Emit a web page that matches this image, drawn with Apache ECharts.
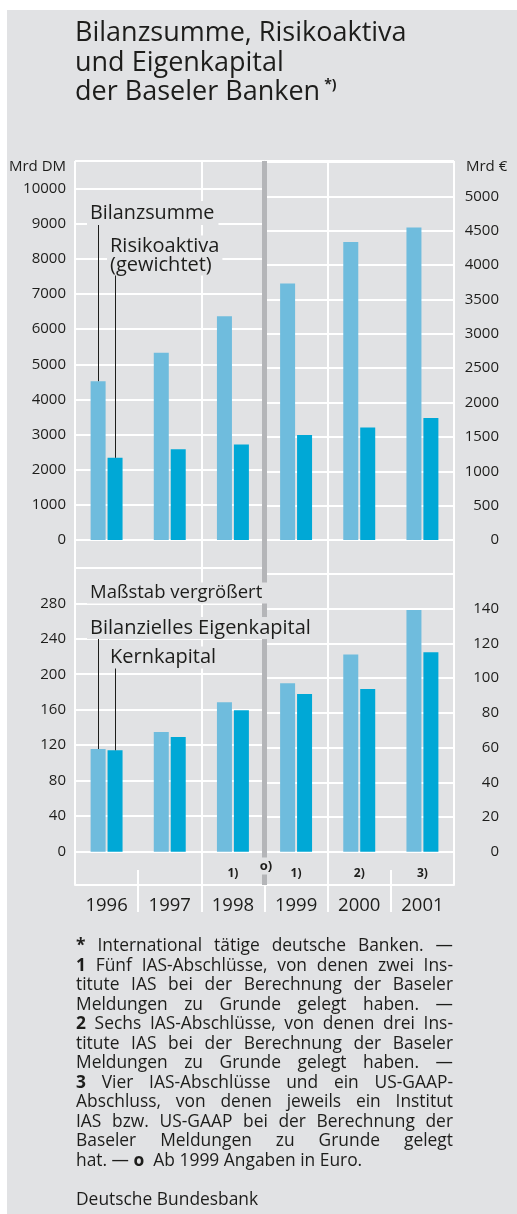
<!DOCTYPE html>
<html>
<head>
<meta charset="utf-8">
<script src="https://cdn.jsdelivr.net/npm/echarts@6/dist/echarts.min.js"></script>
<style>
  html, body { margin: 0; padding: 0; background: #fff; }
  #bg { position: absolute; left: 7px; top: 10px; width: 510px; height: 1204px; background: #e1e2e4; }
  #chart { position: absolute; left: 0; top: 0; width: 517px; height: 1214px; }
  #notes { position: absolute; left: 76px; top: 935px; width: 377px; font-family: 'Open Sans', sans-serif;
           font-size: 17.4px; line-height: 19.5px; color: #1d1d1b; }
  #notes div { white-space: nowrap; }
  #notes .j { text-align: justify; text-align-last: justify; }
</style>
</head>
<body>
<div id="bg"></div>
<div id="chart"></div>
<div id="notes">
  <div class="j"><b>*</b> International tätige deutsche Banken. —</div>
  <div class="j"><b>1</b> Fünf IAS-Abschlüsse, von denen zwei Ins-</div>
  <div class="j">titute IAS bei der Berechnung der Baseler</div>
  <div class="j">Meldungen zu Grunde gelegt haben. —</div>
  <div class="j"><b>2</b> Sechs IAS-Abschlüsse, von denen drei Ins-</div>
  <div class="j">titute IAS bei der Berechnung der Baseler</div>
  <div class="j">Meldungen zu Grunde gelegt haben. —</div>
  <div class="j"><b>3</b> Vier IAS-Abschlüsse und ein US-GAAP-</div>
  <div class="j">Abschluss, von denen jeweils ein Institut</div>
  <div class="j">IAS bzw. US-GAAP bei der Berechnung der</div>
  <div class="j">Baseler Meldungen zu Grunde gelegt</div>
  <div>hat. — <b>o</b>&nbsp; Ab 1999 Angaben in Euro.</div>
  <div>&nbsp;</div>
  <div>Deutsche Bundesbank</div>
</div>
<script>
// Jahre vor/nach der Euro-Umstellung
const years = ['1996', '1997', '1998', '1999', '2000', '2001']
const yearsDM = ['1996', '1997', '1998']
const yearsEUR = ['1999', '2000', '2001']
const footMarks = ['', '', '1)', '1)', '2)', '3)']

// oben: Mrd DM bis 1998, Mrd Euro ab 1999
const bilanzsummeDM = [4520, 5325, 6368]
const risikoaktivaDM = [2340, 2579, 2721]
const bilanzsummeEUR = [3732, 4337, 4546]
const risikoaktivaEUR = [1526, 1638, 1774]

// unten (Maßstab vergrößert)
const eigenkapitalDM = [115.7, 134.9, 168.4]
const kernkapitalDM = [114.3, 129.3, 159.4]
const eigenkapitalEUR = [97.0, 113.7, 139.3]
const kernkapitalEUR = [90.9, 93.7, 114.9]

const DM_PER_EUR = 1.95583
const topMaxDM = 10785
const botMaxDM = 351.3

const FONT = "'Open Sans', sans-serif"
const TXT = '#1d1d1b'
const BG = '#e1e2e4'
const LIGHT = '#6fbcdd'
const DARK = '#00a8d6'
const GREY = '#b4b5b8'

const chart = echarts.init(document.getElementById('chart'))

function catAxis (gridIndex, data) {
  return {
    type: 'category', gridIndex, data,
    axisLine: { show: false }, axisTick: { show: false }, axisLabel: { show: false },
    splitLine: { show: false }
  }
}

function valAxis (gridIndex, max, interval, labelMax, right) {
  return {
    type: 'value', gridIndex, min: 0, max, interval,
    position: right ? 'right' : 'left',
    axisLine: { show: false }, axisTick: { show: false },
    axisLabel: {
      color: TXT, fontFamily: FONT, fontSize: 15,
      margin: right ? 45 : 9, align: 'right',
      formatter: v => (v <= labelMax && Math.abs(v % interval) < 1e-6) ? String(v) : ''
    },
    splitLine: { show: true, lineStyle: { color: '#fff', width: 2 } }
  }
}

function leader (cat, from, to) {
  return {
    silent: true, symbol: 'none', animation: false,
    label: { show: false },
    emphasis: { disabled: true },
    lineStyle: { color: TXT, width: 1, type: 'solid' },
    data: [[{ coord: [cat, from] }, { coord: [cat, to] }]]
  }
}

function bars (xi, yi, data, color, markLine) {
  const s = { type: 'bar', xAxisIndex: xi, yAxisIndex: yi, data, barWidth: 15, barGap: '13%',
    itemStyle: { color }, silent: true }
  if (markLine) s.markLine = markLine
  return s
}

function label (text, x, y, size, extra) {
  return {
    type: 'text', x, y, z: 100,
    style: Object.assign({
      text, fontSize: size, fontFamily: FONT, fill: TXT,
      backgroundColor: BG, padding: [1, 3], verticalAlign: 'middle'
    }, extra || {})
  }
}

chart.setOption({
  animation: false,
  title: {
    left: 75, top: 19, padding: 0,
    text: 'Bilanzsumme, Risikoaktiva\nund Eigenkapital\nder Baseler Banken{sup|*)}',
    textStyle: {
      fontFamily: FONT, fontSize: 27, fontWeight: 'normal', color: TXT, lineHeight: 29.5,
      rich: { sup: { fontFamily: FONT, fontSize: 14, fontWeight: 'bold', color: TXT, verticalAlign: 'top', lineHeight: 22, padding: [0, 0, 0, 4] } }
    }
  },
  grid: [
    { left: 75, top: 161, width: 189.5, height: 379, outerBoundsMode: 'none' },
    { left: 264.5, top: 161, width: 189.5, height: 379, outerBoundsMode: 'none' },
    { left: 75, top: 540, width: 189.5, height: 311.7, outerBoundsMode: 'none' },
    { left: 264.5, top: 540, width: 189.5, height: 311.7, outerBoundsMode: 'none' },
    { left: 75, top: 161, width: 379, height: 724, outerBoundsMode: 'none' },
    { left: 138.2, top: 870, width: 252.7, height: 42, outerBoundsMode: 'none' }
  ],
  xAxis: [
    catAxis(0, yearsDM),
    catAxis(1, yearsEUR),
    catAxis(2, yearsDM),
    catAxis(3, yearsEUR),
    {
      type: 'value', gridIndex: 4, min: 0, max: 6, interval: 2, position: 'bottom',
      axisLine: { show: true, lineStyle: { color: '#fff', width: 2 } },
      axisTick: { show: false }, axisLabel: { show: false },
      splitLine: { show: true, lineStyle: { color: '#fff', width: 2 } }
    },
    {
      type: 'category', gridIndex: 4, data: years, position: 'bottom',
      axisLine: { show: false }, axisTick: { show: false }, splitLine: { show: false },
      axisLabel: { color: TXT, fontFamily: FONT, fontSize: 18.5, margin: 11, interval: 0 }
    },
    {
      type: 'category', gridIndex: 4, data: footMarks, position: 'bottom',
      axisLine: { show: false }, axisTick: { show: false }, splitLine: { show: false },
      axisLabel: { inside: true, color: TXT, fontFamily: FONT, fontSize: 12, fontWeight: 'bold', margin: 5, interval: 0 }
    },
    {
      type: 'category', gridIndex: 5, data: ['a', 'b', 'c', 'd'],
      axisLine: { show: false }, axisTick: { show: false }, axisLabel: { show: false },
      splitLine: { show: true, interval: 0, lineStyle: { color: '#fff', width: 2 } }
    }
  ],
  yAxis: [
    valAxis(0, topMaxDM, 1000, 10000, false),
    valAxis(1, topMaxDM / DM_PER_EUR, 500, 5000, true),
    valAxis(2, botMaxDM, 40, 280, false),
    valAxis(3, botMaxDM / DM_PER_EUR, 20, 140, true),
    { type: 'value', gridIndex: 4, min: 0, max: 1, show: false },
    { type: 'value', gridIndex: 5, min: 0, max: 1, show: false }
  ],
  series: [
    bars(0, 0, bilanzsummeDM, LIGHT, leader(yearsDM[0], bilanzsummeDM[0], 9100)),
    bars(0, 0, risikoaktivaDM, DARK, leader(yearsDM[0], risikoaktivaDM[0], 7550)),
    bars(1, 1, bilanzsummeEUR, LIGHT),
    bars(1, 1, risikoaktivaEUR, DARK),
    bars(2, 2, eigenkapitalDM, LIGHT, leader(yearsDM[0], eigenkapitalDM[0], 242)),
    bars(2, 2, kernkapitalDM, DARK, leader(yearsDM[0], kernkapitalDM[0], 210)),
    bars(3, 3, eigenkapitalEUR, LIGHT),
    bars(3, 3, kernkapitalEUR, DARK),
    {
      // Trennlinie DM / Euro
      type: 'line', xAxisIndex: 4, yAxisIndex: 4, data: [], silent: true,
      markLine: {
        silent: true, symbol: 'none', label: { show: false }, emphasis: { disabled: true },
        lineStyle: { color: GREY, width: 5, type: 'solid' },
        data: [{ xAxis: 3 }]
      }
    }
  ],
  graphic: [
    label('Mrd DM', 66, 167, 15, { backgroundColor: 'transparent', padding: 0, align: 'right' }),
    label('Mrd €', 466, 167, 15, { backgroundColor: 'transparent', padding: 0 }),
    label('Bilanzsumme', 87, 213, 19.8, { padding: [1, 4, 3, 3] }),
    label('Risikoaktiva\n(gewichtet)', 107, 255.5, 20, { lineHeight: 19 }),
    label('Maßstab vergrößert', 87, 593, 18.5, { padding: [1, 5, 1, 3] }),
    label('Bilanzielles Eigenkapital', 87, 628, 20),
    label('Kernkapital', 107, 657.5, 20),
    label('o)', 266, 866, 13, { fontWeight: 'bold', align: 'center', padding: [2, 1] })
  ]
})
</script>
</body>
</html>
